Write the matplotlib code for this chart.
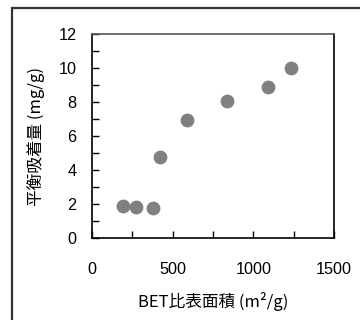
import numpy as np
import matplotlib
matplotlib.use('Agg')
import matplotlib.pyplot as plt
from matplotlib.patches import Rectangle
from matplotlib.ticker import MultipleLocator

plt.rcParams['font.family'] = ['Liberation Sans', 'Noto Sans CJK JP']

# BET surface area (m2/g) vs equilibrium adsorption (mg/g)
bet_area = [192, 273, 378, 421, 589, 835, 1091, 1234]
adsorbed = [1.88, 1.85, 1.75, 4.75, 6.95, 8.05, 8.88, 10.0]

fig = plt.figure(figsize=(3.6, 3.2), dpi=100)

# outer frame
fig.patches.append(Rectangle((12 / 360, -0.05), 1.0, 1 - 8 / 320 + 0.05,
                             transform=fig.transFigure, fill=False,
                             edgecolor='#333333', lw=1.6))

ax = fig.add_axes([92 / 360, 1 - 238 / 320, 242 / 360, 204 / 320])
ax.scatter(bet_area, adsorbed, s=80, color='#808080', zorder=3)

ax.set_xlim(0, 1500)
ax.set_ylim(0, 12)
ax.xaxis.set_major_locator(MultipleLocator(500))
ax.xaxis.set_minor_locator(MultipleLocator(250))
ax.yaxis.set_major_locator(MultipleLocator(2))
ax.yaxis.set_minor_locator(MultipleLocator(1))
ax.tick_params(axis='both', which='both', direction='in', length=5, width=1)
ax.tick_params(axis='x', which='major', pad=17, labelsize=11.7)
ax.tick_params(axis='y', which='major', pad=11, labelsize=11.7)
ax.tick_params(top=False, right=False, which='both')
for side in ['left', 'bottom', 'top', 'right']:
    ax.spines[side].set_linewidth(1.2)
ax.spines['top'].set_color('#555555')

ax.set_xlabel('BET比表面積 (m²/g)', fontsize=12, labelpad=11,
              family=['Noto Sans CJK JP', 'DejaVu Sans'])
ax.set_ylabel('平衡吸着量 (mg/g)', fontsize=12, labelpad=10,
              family=['Noto Sans CJK JP', 'DejaVu Sans'])

fig.savefig('out.png', dpi=100)
